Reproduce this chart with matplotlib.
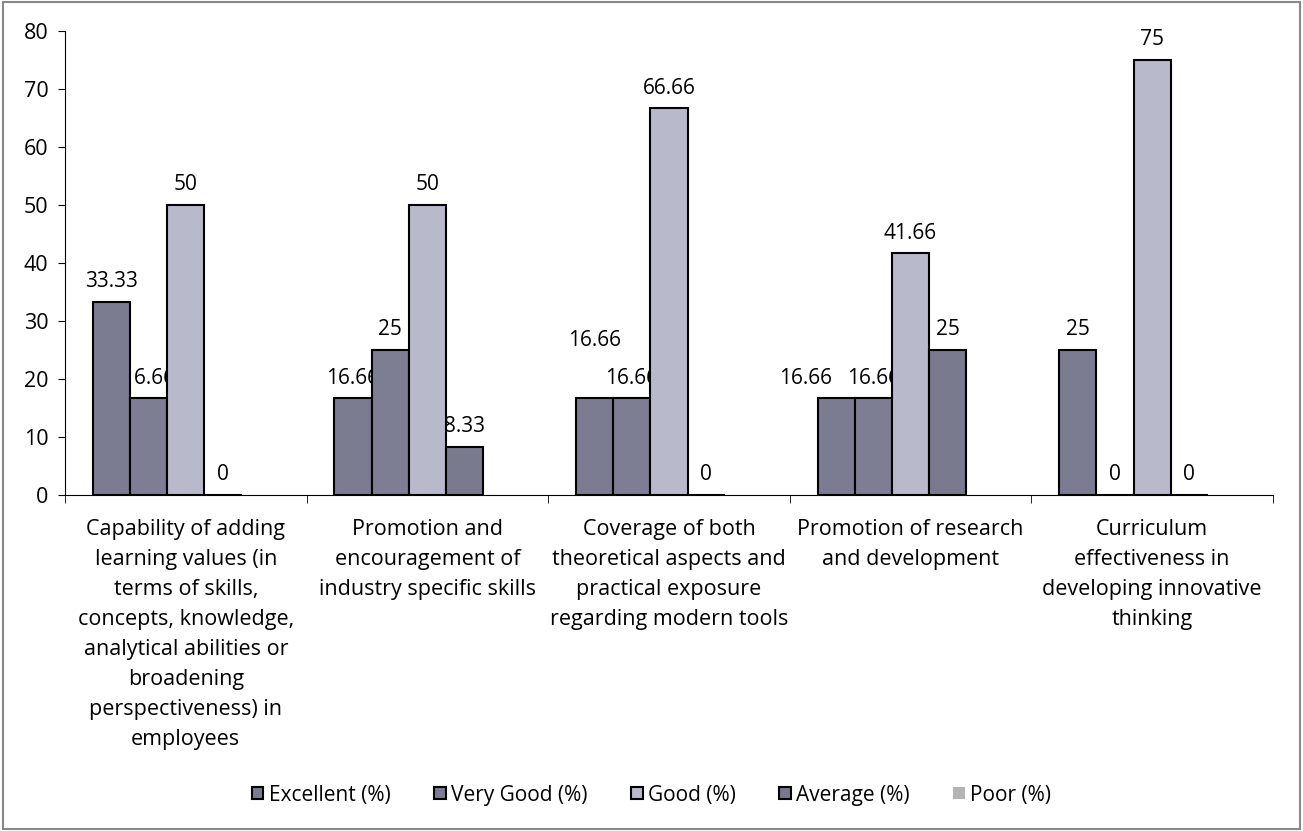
import numpy as np
import matplotlib.pyplot as plt
from matplotlib.patches import Rectangle

plt.rcParams['font.family'] = ['Open Sans', 'DejaVu Sans']

categories = [
    "Capability of adding\nlearning values (in\nterms of skills,\nconcepts, knowledge,\nanalytical abilities or\nbroadening\nperspectiveness) in\nemployees",
    "Promotion and\nencouragement of\nindustry specific skills",
    "Coverage of both\ntheoretical aspects and\npractical exposure\nregarding modern tools",
    "Promotion of research\nand development",
    "Curriculum\neffectiveness in\ndeveloping innovative\nthinking",
]
series = ["Excellent (%)", "Very Good (%)", "Good (%)", "Average (%)", "Poor (%)"]
excellent = [33.33, 16.66, 16.66, 16.66, 25]
very_good = [16.66, 25, 16.66, 16.66, 0]
good = [50, 50, 66.66, 41.66, 75]
average = [0, 8.33, 0, 25, 0]
poor = [0, 0, 0, 0, 0]

values = [excellent, very_good, good, average, poor]
colors = ["#7b7b92", "#7d7d94", "#b9b9cc", "#7a7a8f", "#b4b4b4"]
edges = ["black", "black", "black", "black", "none"]
labelled = [True, True, True, True, False]
# a few labels were dragged by hand in the original (series, group) -> (dx, dy) points
nudge = {(0, 2): (0, 27), (0, 3): (-22, 0)}

fig = plt.figure(figsize=(13.03, 8.31), dpi=100)
ax = fig.add_axes([0.0499, 0.4043, 0.927, 0.5584])

x = np.arange(len(categories)) + 0.5
w = 0.154
for i, (vals, c) in enumerate(zip(values, colors)):
    pos = x + (i - 2) * w
    bars = ax.bar(pos, vals, w, color=c, edgecolor=edges[i], linewidth=1.5,
                  label=series[i], zorder=3)
    if labelled[i]:
        for j, (b, v) in enumerate(zip(bars, vals)):
            dx, dy = nudge.get((i, j), (0, 0))
            ax.annotate("%g" % v, (b.get_x() + b.get_width() / 2, v),
                        xytext=(dx, 7 + dy), textcoords="offset points",
                        ha="center", va="bottom", fontsize=15, zorder=1)

ax.set_xlim(0, 5)
ax.set_ylim(0, 80)
ax.set_yticks(range(0, 81, 10))
ax.tick_params(axis="y", labelsize=15.5, length=5, pad=7)
ax.set_xticks(x)
ax.set_xticklabels(categories, fontsize=15.5, linespacing=1.57, va="top")
ax.tick_params(axis="x", length=0, pad=17)
ax.set_xticks(np.arange(0, 6), minor=True)
ax.tick_params(axis="x", which="minor", length=6)
ax.spines["top"].set_visible(False)
ax.spines["right"].set_visible(False)

fig.legend(loc="center", bbox_to_anchor=(0.5, 0.0433), ncol=5, frameon=False,
           fontsize=15, handlelength=0.55, handleheight=0.55, handletextpad=0.25,
           columnspacing=2.1)

fig.patches.append(Rectangle((0.002, 0.002), 0.996, 0.996, transform=fig.transFigure,
                             fill=False, edgecolor="#888888", linewidth=1.5))

fig.savefig("out.png", dpi=100)
